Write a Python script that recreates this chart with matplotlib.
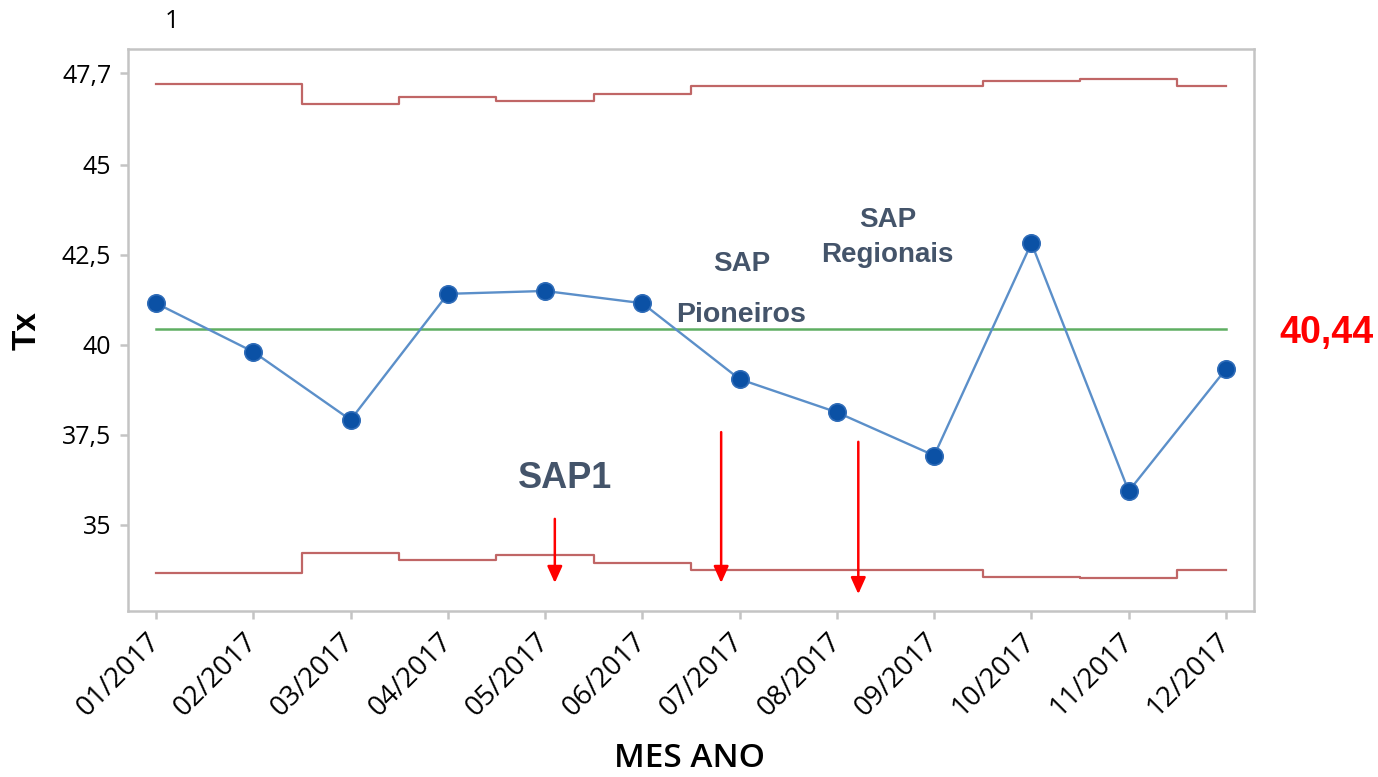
import numpy as np
import matplotlib
matplotlib.use("Agg")
import matplotlib.pyplot as plt

# ---- dados ----
meses = ["01/2017", "02/2017", "03/2017", "04/2017", "05/2017", "06/2017",
         "07/2017", "08/2017", "09/2017", "10/2017", "11/2017", "12/2017"]
tx = [41.16, 39.81, 37.92, 41.42, 41.50, 41.16, 39.05, 38.13, 36.93, 42.83, 35.94, 39.33]
lsc = [47.24, 47.24, 46.69, 46.89, 46.78, 46.97, 47.18, 47.18, 47.18, 47.34, 47.39, 47.18]
lic = [33.66, 33.66, 34.23, 34.02, 34.17, 33.95, 33.75, 33.75, 33.75, 33.56, 33.52, 33.74]
media = 40.44
media_txt = "40,44"

yticks = [35, 37.5, 40, 42.5, 45, 47.55]
ytick_labels = ["35", "37,5", "40", "42,5", "45", "47,7"]

# setas: (x inicio, y inicio, y fim)
setas = [(4.10, 35.17, 33.39), (5.81, 37.58, 33.39), (7.22, 37.31, 33.08)]

plt.rcParams['font.family'] = ['Open Sans', 'DejaVu Sans']
arial = ['Liberation Sans', 'DejaVu Sans']

fig = plt.figure(figsize=(13.78, 7.77), dpi=100)
ax = fig.add_axes([0.0929, 0.2136, 0.8171, 0.7233])

x = np.arange(len(meses))

# limites de controle (degraus) e media
ax.plot(x, lsc, drawstyle='steps-mid', color='#c06666', lw=1.6)
ax.plot(x, lic, drawstyle='steps-mid', color='#c06666', lw=1.6)
ax.plot([x[0], x[-1]], [media, media], color='#5fae62', lw=1.8)
ax.plot(x, tx, color='#5b8fc9', lw=1.7, marker='o', markersize=12.5,
        markerfacecolor='#0b51a5', markeredgecolor='#2f6cb8', markeredgewidth=1.2)

for xs, y0, y1 in setas:
    ax.annotate("", xy=(xs, y1), xytext=(xs, y0),
                arrowprops=dict(arrowstyle='-|>,head_length=1.0,head_width=0.45',
                                color='red', lw=1.8, shrinkA=0, shrinkB=0))

cor_txt = '#44546a'
ax.text(4.20, 36.30, "SAP1", fontsize=26, fontweight='bold', color=cor_txt,
        ha='center', va='center', family=arial)
ax.text(6.02, 42.25, "SAP", fontsize=20, fontweight='bold', color=cor_txt,
        ha='center', va='center', family=arial)
ax.text(6.01, 40.83, "Pioneiros", fontsize=20.5, fontweight='bold', color=cor_txt,
        ha='center', va='center', family=arial)
ax.text(7.52, 43.48, "SAP", fontsize=20, fontweight='bold', color=cor_txt,
        ha='center', va='center', family=arial)
ax.text(7.52, 42.50, "Regionais", fontsize=20, fontweight='bold', color=cor_txt,
        ha='center', va='center', family=arial)

fig.text(1326 / 1378, 1 - 333 / 777, media_txt, fontsize=27, fontweight='bold',
         color='red', ha='center', va='center', family=arial)
fig.text(172 / 1378, 1 - 22 / 777, "1", fontsize=18, ha='center', va='center')

ax.set_xlim(-0.288, 11.288)
ax.set_ylim(32.61, 48.22)
ax.set_xticks(x)
ax.set_xticklabels(meses, rotation=45, ha='right', va='center',
                   rotation_mode='anchor', fontsize=20)
ax.set_yticks(yticks)
ax.set_yticklabels(ytick_labels, fontsize=18)

for s in ax.spines.values():
    s.set_color('#c4c4c4')
    s.set_linewidth(1.8)
ax.tick_params(axis='both', color='#c4c4c4', width=1.8, length=6)
ax.tick_params(axis='x', pad=13)
ax.tick_params(axis='y', pad=6)

ax.set_ylabel("Tx", fontsize=24, fontweight='bold', labelpad=14, family=arial)
# rotulo do eixo x posto na figura, rente a borda inferior
fig.text(690 / 1378, 2 / 777, "MES ANO", fontsize=24, fontweight='semibold',
         ha='center', va='bottom')

fig.savefig("out.png", dpi=100)
